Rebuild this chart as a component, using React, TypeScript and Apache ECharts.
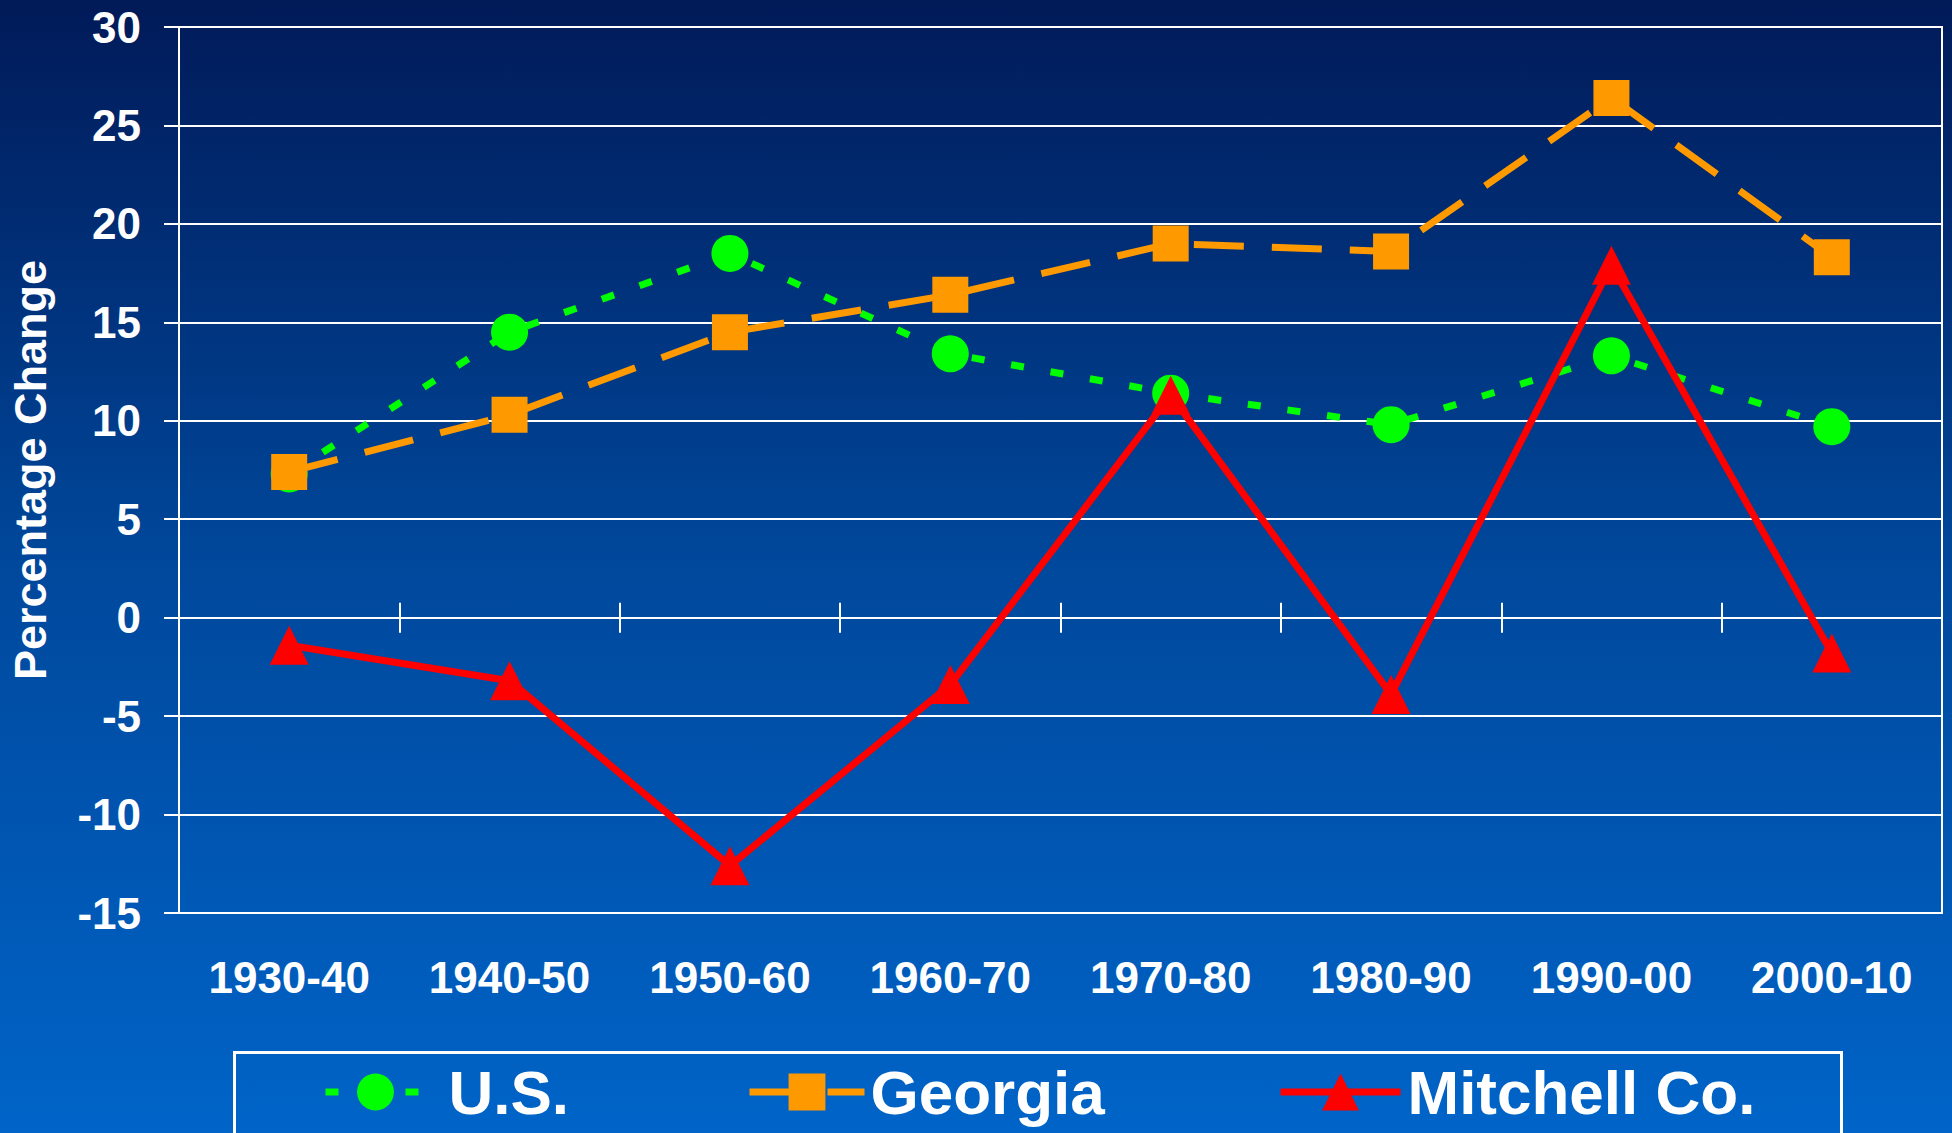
import React, { useEffect, useRef } from "react";
import * as echarts from "echarts";

const categories = ["1930-40", "1940-50", "1950-60", "1960-70", "1970-80", "1980-90", "1990-00", "2000-10"];
const usValues = [7.3, 14.5, 18.5, 13.4, 11.4, 9.8, 13.3, 9.7];
const georgiaValues = [7.4, 10.3, 14.5, 16.4, 19.0, 18.6, 26.4, 18.3];
const mitchellValues = [-1.4, -3.2, -12.6, -3.4, 11.3, -3.9, 17.9, -1.8];
const yTicks = { min: -15, max: 30, interval: 5 };
const seriesNames = ["U.S.", "Georgia", "Mitchell Co."];

const FONT = '"Liberation Sans", Arial, Helvetica, sans-serif';

export default function App() {
  const ref = useRef<HTMLDivElement>(null);
  useEffect(() => {
    if (!ref.current) return;
    const chart = echarts.init(ref.current, null, { renderer: "svg" });
    const legendBase = (left: number, width: number, pad: number, name: string) => ({
      top: 1055,
      left,
      data: [name],
      itemWidth: width,
      itemHeight: 46,
      lineStyle: { width: 7 },
      textStyle: {
        color: "#ffffff",
        fontSize: 62,
        lineHeight: 64,
        fontWeight: "bold",
        fontFamily: FONT,
        padding: [0, 0, 0, pad],
      },
      selectedMode: false,
    });
    chart.setOption({
      animation: false,
      backgroundColor: new echarts.graphic.LinearGradient(0, 0, 0, 1, [
        { offset: 0, color: "#011a58" },
        { offset: 0.5, color: "#00489c" },
        { offset: 1, color: "#0064c8" },
      ]),
      grid: {
        left: 177,
        right: 10,
        top: 27,
        bottom: 220,
        show: true,
        borderColor: "#ffffff",
        borderWidth: 2,
        backgroundColor: "transparent",
      },
      legend: [
        legendBase(317, 100, 18, seriesNames[0]),
        legendBase(741, 115, 1, seriesNames[1]),
        legendBase(1272, 120, 2, seriesNames[2]),
      ],
      graphic: [
        {
          type: "rect",
          left: 233,
          top: 1051,
          shape: { width: 1607, height: 120 },
          style: { fill: "transparent", stroke: "#ffffff", lineWidth: 3 },
          silent: true,
        },
      ],
      xAxis: [
        {
          type: "category",
          data: categories,
          position: "bottom",
          boundaryGap: true,
          axisLine: { show: false, onZero: false },
          axisTick: { show: false },
          axisLabel: {
            color: "#ffffff",
            fontSize: 44,
            fontWeight: "bold",
            fontFamily: FONT,
            margin: 42,
          },
          splitLine: { show: false },
        },
        {
          type: "category",
          data: categories,
          position: "bottom",
          boundaryGap: true,
          axisLine: { show: true, onZero: true, onZeroAxisIndex: 0, lineStyle: { color: "#ffffff", width: 2 } },
          axisTick: { show: true, inside: false, length: 15, lineStyle: { color: "#ffffff", width: 2 } },
          axisLabel: { show: false },
          splitLine: { show: false },
        },
        {
          type: "category",
          data: categories,
          position: "top",
          boundaryGap: true,
          axisLine: { show: false, onZero: true, onZeroAxisIndex: 0 },
          axisTick: { show: true, inside: false, length: 15, lineStyle: { color: "#ffffff", width: 2 } },
          axisLabel: { show: false },
          splitLine: { show: false },
        },
      ],
      yAxis: {
        type: "value",
        min: yTicks.min,
        max: yTicks.max,
        interval: yTicks.interval,
        name: "Percentage Change",
        nameLocation: "middle",
        nameGap: 126,
        nameRotate: 90,
        nameTextStyle: {
          color: "#ffffff",
          fontSize: 45,
          fontWeight: "bold",
          fontFamily: FONT,
        },
        axisLine: { show: true, lineStyle: { color: "#ffffff", width: 2 } },
        axisTick: { show: true, length: 15, lineStyle: { color: "#ffffff", width: 2 } },
        axisLabel: {
          color: "#ffffff",
          fontSize: 44,
          fontWeight: "bold",
          fontFamily: FONT,
          margin: 38,
        },
        splitLine: { show: true, lineStyle: { color: "#ffffff", width: 2 } },
      },
      series: [
        {
          name: seriesNames[0],
          type: "line",
          data: usValues,
          symbol: "circle",
          symbolSize: 37,
          itemStyle: { color: "#00ff00" },
          lineStyle: { color: "#00ff00", width: 7, type: [13, 27] },
          z: 3,
        },
        {
          name: seriesNames[1],
          type: "line",
          data: georgiaValues,
          symbol: "rect",
          symbolSize: 36,
          itemStyle: { color: "#ff9900" },
          lineStyle: { color: "#ff9900", width: 7, type: [50, 28] },
          z: 4,
        },
        {
          name: seriesNames[2],
          type: "line",
          data: mitchellValues,
          symbol: "triangle",
          symbolSize: [39, 39],
          itemStyle: { color: "#ff0000" },
          lineStyle: { color: "#ff0000", width: 7 },
          z: 5,
        },
      ],
    });
    return () => chart.dispose();
  }, []);
  return (
    <div
      ref={ref}
      style={{ position: "fixed", left: 0, top: 0, width: 1952, height: 1133 }}
    />
  );
}
